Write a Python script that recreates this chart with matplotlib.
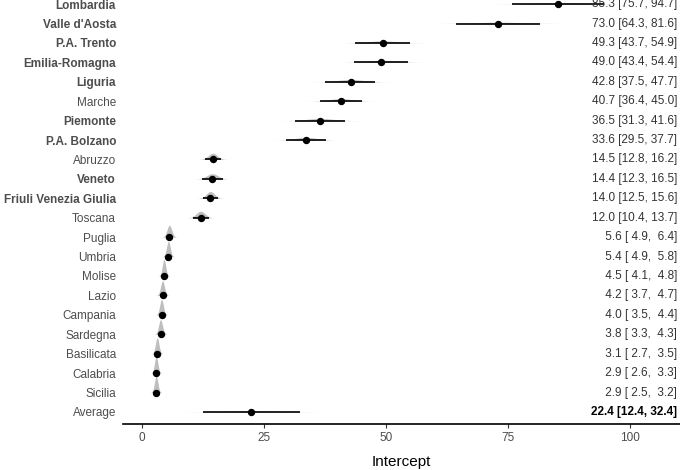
import numpy as np
import matplotlib
matplotlib.use("Agg")
import matplotlib.pyplot as plt

plt.rcParams['font.family'] = ['Liberation Sans', 'DejaVu Sans']

regions = ["Lombardia", "Valle d'Aosta", "P.A. Trento", "Emilia-Romagna", "Liguria",
           "Marche", "Piemonte", "P.A. Bolzano", "Abruzzo", "Veneto",
           "Friuli Venezia Giulia", "Toscana", "Puglia", "Umbria", "Molise",
           "Lazio", "Campania", "Sardegna", "Basilicata", "Calabria", "Sicilia", "Average"]
estimate = [85.3, 73.0, 49.3, 49.0, 42.8, 40.7, 36.5, 33.6, 14.5, 14.4, 14.0, 12.0,
            5.6, 5.4, 4.5, 4.2, 4.0, 3.8, 3.1, 2.9, 2.9, 22.4]
lower = [75.7, 64.3, 43.7, 43.4, 37.5, 36.4, 31.3, 29.5, 12.8, 12.3, 12.5, 10.4,
         4.9, 4.9, 4.1, 3.7, 3.5, 3.3, 2.7, 2.6, 2.5, 12.4]
upper = [94.7, 81.6, 54.9, 54.4, 47.7, 45.0, 41.6, 37.7, 16.2, 16.5, 15.6, 13.7,
         6.4, 5.8, 4.8, 4.7, 4.4, 4.3, 3.5, 3.3, 3.2, 32.4]
bold_regions = ["Lombardia", "Valle d'Aosta", "P.A. Trento", "Emilia-Romagna", "Liguria",
                "Piemonte", "P.A. Bolzano", "Veneto", "Friuli Venezia Giulia"]
xticks = [0, 25, 50, 75, 100]
xlabel = "Intercept"

fig = plt.figure(figsize=(6.8, 4.7), dpi=100)
ax = fig.add_axes([123/680, 46/470, 1 - 123/680, 1 - 46/470])

n = len(regions)
ypos = np.arange(n)[::-1]

est = np.array(estimate)
lo = np.array(lower)
hi = np.array(upper)
sd = (hi - lo) / 3.92
bw = 0.3  # kernel smoothing of the density
sd_eff = np.sqrt(sd ** 2 + bw ** 2)
peak = 1.0 / (sd_eff * np.sqrt(2 * np.pi))
scale = 0.85 / peak.max()

for i in range(n):
    xs = np.linspace(est[i] - 4 * sd_eff[i], est[i] + 4 * sd_eff[i], 300)
    dens = np.exp(-0.5 * ((xs - est[i]) / sd_eff[i]) ** 2) / (sd_eff[i] * np.sqrt(2 * np.pi))
    ax.fill_between(xs, ypos[i], ypos[i] + dens * scale, color='#bebebe', lw=0, zorder=1)
    ax.plot([lo[i], hi[i]], [ypos[i], ypos[i]], color='black', lw=1.2, zorder=2,
            solid_capstyle='butt')
    ax.plot(est[i], ypos[i], 'o', color='black', ms=4.3, zorder=3)
    label = f"{est[i]:4.1f} [{lo[i]:4.1f}, {hi[i]:4.1f}]"
    is_avg = regions[i] == "Average"
    ax.text(109.6, ypos[i], label, ha='right', va='center', fontsize=8.5,
            color='black' if is_avg else '#333333',
            fontweight='bold' if is_avg else 'normal', zorder=4)

ax.set_xlim(-3.9, 110.2)
ax.set_ylim(-0.62, n - 1 + 0.21)
ax.set_yticks(ypos)
ax.set_yticklabels(regions)
for t, r in zip(ax.get_yticklabels(), regions):
    t.set_fontweight('bold' if r in bold_regions else 'normal')
    t.set_color('#4d4d4d')
    t.set_fontsize(8.5)
ax.tick_params(axis='y', length=0, pad=5)
ax.set_xticks(xticks)
ax.set_xticklabels([str(v) for v in xticks])
ax.tick_params(axis='x', length=3, width=0.8, color='#333333', labelcolor='#4d4d4d',
               labelsize=8.5, pad=3)
for s in ['top', 'right', 'left']:
    ax.spines[s].set_visible(False)
ax.spines['bottom'].set_linewidth(1.2)
ax.spines['bottom'].set_color('black')
ax.set_xlabel(xlabel, fontsize=11, color='black', labelpad=8)
ax.set_facecolor('white')

fig.savefig("out.png", dpi=100)
